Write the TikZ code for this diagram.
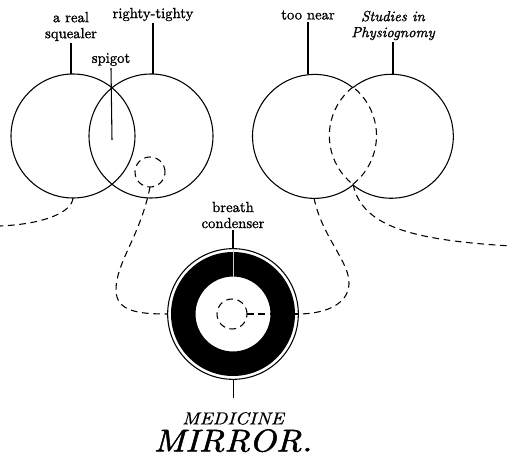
\documentclass[tikz,border=0pt]{standalone}
\usepackage{fontspec}
\usepackage{tikz}
\usetikzlibrary{positioning,calc}
\newfontfamily\labfont{lmroman10-regular}[Extension=.otf, FakeBold=1.2,
  ItalicFont=lmroman10-italic, ItalicFeatures={FakeBold=1.2}]
\newfontfamily\titlefont{lmroman10-italic}[Extension=.otf, FakeStretch=1.12, FakeBold=0.6]
\newfontfamily\mirrorfont{lmroman10-italic}[Extension=.otf, FakeStretch=1.12, FakeBold=1.6]

\begin{document}
\begin{tikzpicture}[
  x=0.75pt, y=0.75pt,
  font=\labfont\fontsize{11}{12}\selectfont,
  lab/.style={align=center, inner sep=1.5pt},
  ball/.style={circle, minimum size=93pt, inner sep=0pt, outer sep=0pt},
  dot/.style={circle, minimum size=22.5pt, inner sep=0pt, outer sep=0pt},
  solidline/.style={line width=0.8pt},
  dline/.style={line width=0.8pt, dash pattern=on 5pt off 3.5pt}
]
\useasboundingbox (0,0) rectangle (511,462);

% --- left pair ---
\node[ball, draw, solidline] (squealer) at (73,326) {};
\node[ball, draw, solidline] (righty) at (151,326) {};
\node[dot, draw, dline] (valve) at (150,290) {};

\node[lab] (squealerlab) at (71,435.5) {a real\\squealer};
\node[lab] (rightylab) at (153,447.5) {righty-tighty};
\node[lab] (spigotlab) at (111,402.5) {spigot};
\coordinate (spigotend) at (112,322);

\draw[solidline] (squealerlab.south) -- (squealerlab.south |- squealer.north);
\draw[solidline] (rightylab.south) -- (rightylab.south |- righty.north);
\draw[solidline] (spigotlab.south) -- (spigotend);

% --- right pair, lens drawn dashed ---
\node[ball] (near) at (314,326) {};
\node[ball] (physio) at (391,326) {};
\draw[solidline] (near.51.6) arc[start angle=51.6, end angle=308.4, radius=46.5pt];
\draw[dline] (near.-51.6) arc[start angle=-51.6, end angle=51.6, radius=46.5pt];
\draw[solidline] (physio.-128.4) arc[start angle=-128.4, end angle=128.4, radius=46.5pt];
\draw[dline] (physio.128.4) arc[start angle=128.4, end angle=231.6, radius=46.5pt];

\node[lab] (nearlab) at (308,447) {too near};
\node[lab, font=\labfont\fontsize{11}{12}\selectfont\itshape] (physiolab) at (393,436.5)
  {Studies in\\Physiognomy};

\draw[solidline] (nearlab.south) -- (nearlab.south |- near.north);
\draw[solidline] (physiolab.south) -- (physiolab.south |- physio.north);

% --- mirror ---
\node[circle, draw, solidline, minimum size=98pt, inner sep=0pt, outer sep=0pt]
  (ring) at (233,148) {};
\fill[even odd rule] (ring.center) circle[radius=46.5pt] circle[radius=28.1pt];
\node[dot, draw, dline] (core) at (232,148) {};
\coordinate (ringin) at (233,185.5);

\node[lab] (breathlab) at (233,247) {breath\\condenser};
\draw[solidline] (breathlab.south) -- (ring.north);
\draw[line width=0.6pt, white!80!black] (ring.north) -- (ringin);

\node[inner sep=0pt, font=\titlefont\fontsize{13}{13}\selectfont, below=24.4pt of ring]
  (medicine) {MEDICINE};
\node[inner sep=0pt, font=\mirrorfont\fontsize{23.5}{24}\selectfont, below=3pt of medicine]
  (mirror) {MIRROR.};
\draw[line width=0.6pt, shorten >=10.5pt] (ring.south) -- (medicine.north);

% --- dashed runs ---
\coordinate (leftend) at (0,236);
\coordinate (rightend) at (511,216);
\draw[dline] (squealer.south) .. controls (72,250) and (45,238) .. (leftend);
\draw[dline] (valve.south) .. controls (140,225) and (116,200) .. (116,172)
  .. controls (116,150) and (140,148) .. (ring.west);
\draw[dline] (near.south) .. controls (322,225) and (350,200) .. (349,178)
  .. controls (348,155) and (320,148) .. (ring.east);
\draw[dline] (near.-51.6) .. controls (362,236) and (410,222) .. (rightend);
\draw[dline] (core.east) -- (ring.east);
\end{tikzpicture}
\end{document}
